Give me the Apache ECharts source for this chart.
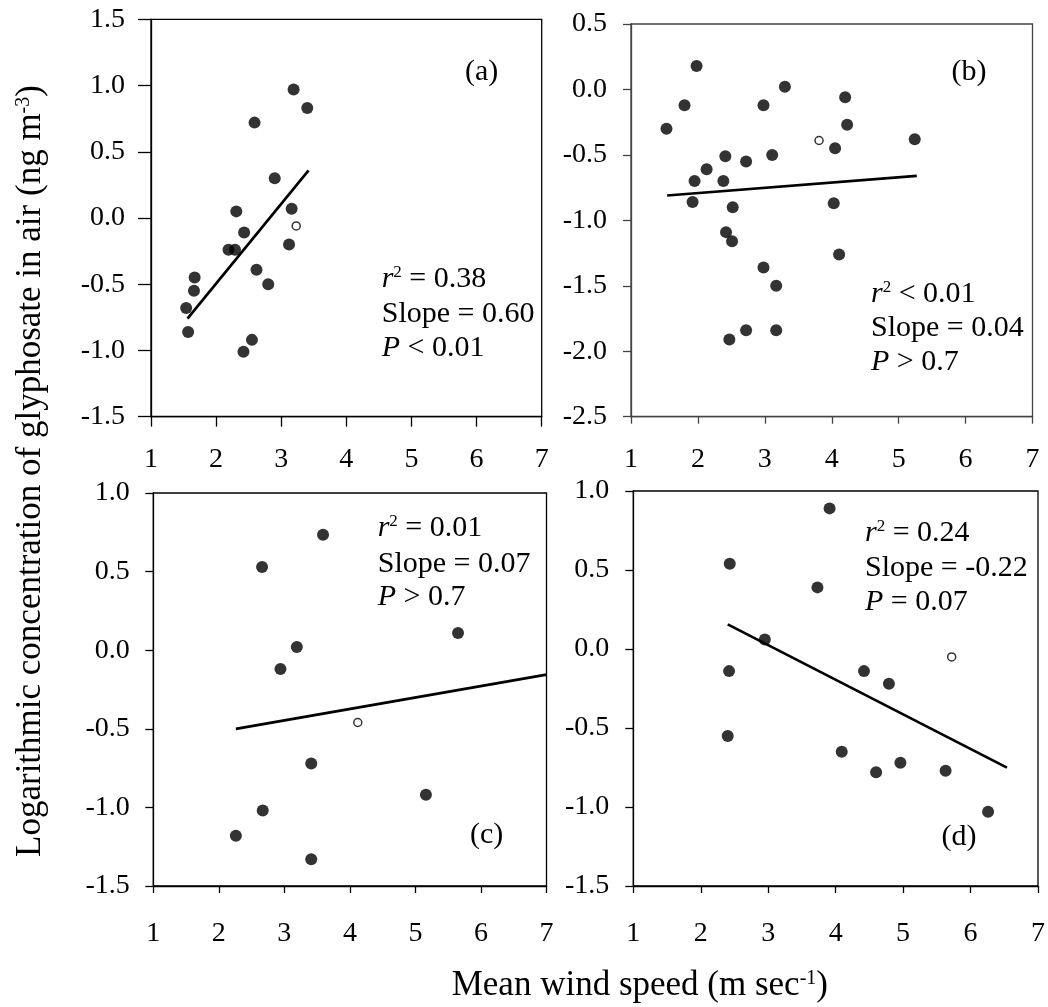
<!DOCTYPE html>
<html>
<head>
<meta charset="utf-8">
<script src="https://cdn.jsdelivr.net/npm/echarts@6/dist/echarts.min.js"></script>
<style>
html,body{margin:0;padding:0;background:#fff;}
#chart{width:1048px;height:1007px;}
</style>
</head>
<body>
<div id="chart"></div>
<script>
// ---- data ----
const xTicks = [1, 2, 3, 4, 5, 6, 7];

// panel (a)
const aWind = [3.19, 3.40, 2.59, 2.90, 2.31, 3.16, 2.43, 2.19, 2.29, 3.12, 2.62, 2.80, 1.67, 1.66, 1.54, 1.57, 2.55, 2.42];
const aConc = [0.97, 0.83, 0.72, 0.30, 0.05, 0.07, -0.11, -0.24, -0.24, -0.20, -0.39, -0.50, -0.45, -0.55, -0.68, -0.86, -0.92, -1.01];
const aOpenWind = [3.23];
const aOpenConc = [-0.06];
const aFitWind = [1.56, 3.42];
const aFitConc = [-0.76, 0.36];
const aStats = ['= 0.38', '0.60', '< 0.01'];

// panel (b)
const bWind = [1.98, 1.80, 1.53, 3.30, 2.98, 4.20, 4.23, 4.05, 5.24, 2.41, 3.11, 2.72, 2.13, 1.95, 2.38, 1.92, 2.52, 4.03, 2.42, 2.51, 4.11, 2.98, 3.17, 2.72, 3.17, 2.47];
const bConc = [0.18, -0.12, -0.30, 0.02, -0.12, -0.06, -0.27, -0.45, -0.38, -0.51, -0.50, -0.55, -0.61, -0.70, -0.70, -0.86, -0.90, -0.87, -1.09, -1.16, -1.26, -1.36, -1.50, -1.84, -1.84, -1.91];
const bOpenWind = [3.81];
const bOpenConc = [-0.39];
const bFitWind = [1.54, 5.27];
const bFitConc = [-0.81, -0.66];
const bStats = ['< 0.01', '0.04', '> 0.7'];

// panel (c)
const cWind = [3.59, 2.66, 3.19, 2.94, 5.65, 3.41, 5.16, 2.67, 2.26, 3.41];
const cConc = [0.735, 0.53, 0.02, -0.12, 0.11, -0.72, -0.92, -1.02, -1.18, -1.33];
const cOpenWind = [4.12];
const cOpenConc = [-0.46];
const cFitWind = [2.26, 7.0];
const cFitConc = [-0.50, -0.155];
const cStats = ['= 0.01', '0.07', '> 0.7'];

// panel (d)
const dWind = [3.91, 2.43, 3.73, 2.95, 2.42, 4.42, 4.79, 2.40, 4.09, 4.96, 4.60, 5.63, 6.26];
const dConc = [0.89, 0.54, 0.39, 0.06, -0.14, -0.14, -0.22, -0.55, -0.65, -0.72, -0.78, -0.77, -1.03];
const dOpenWind = [5.72];
const dOpenConc = [-0.05];
const dFitWind = [2.40, 6.54];
const dFitConc = [0.156, -0.751];
const dStats = ['= 0.24', '-0.22', '= 0.07'];

const yRangeA = [-1.5, 1.5];
const yRangeB = [-2.5, 0.5];
const yRangeC = [-1.5, 1.0];
const yRangeD = [-1.5, 1.0];

const panelLetters = ['(a)', '(b)', '(c)', '(d)'];
const xTitle = 'Mean wind speed (m sec';
const xTitleSup = '-1';
const yTitle = 'Logarithmic concentration of glyphosate in air (ng m';
const yTitleSup = '-3';

// ---- layout / styling ----
const FONT = '"Liberation Serif", "Times New Roman", serif';
const zip = (xs, ys) => xs.map((v, i) => [v, ys[i]]);

const panels = [
  { wind: aWind, conc: aConc, ow: aOpenWind, oc: aOpenConc, fw: aFitWind, fc: aFitConc, yr: yRangeA,
    grid: { left: 151, top: 19.3, width: 390.7, height: 397.4 }, tickX: 10, tickY: 13, mX: 29, mY: 26, frame: '#000',
    stats: aStats, statX: 381.7, statY: [279, 314, 348], letterPos: [481.7, 72] },
  { wind: bWind, conc: bConc, ow: bOpenWind, oc: bOpenConc, fw: bFitWind, fc: bFitConc, yr: yRangeB,
    grid: { left: 631, top: 24, width: 401.5, height: 392.7 }, tickX: 7, tickY: 8, mX: 29, mY: 24, frame: '#444',
    stats: bStats, statX: 871, statY: [294.3, 328.3, 362], letterPos: [969, 72] },
  { wind: cWind, conc: cConc, ow: cOpenWind, oc: cOpenConc, fw: cFitWind, fc: cFitConc, yr: yRangeC,
    grid: { left: 153.3, top: 493, width: 393.2, height: 393 }, tickX: 7, tickY: 8, mX: 34, mY: 23.5, frame: '#000',
    stats: cStats, statX: 377.7, statY: [528.3, 563.7, 597], letterPos: [486.7, 835] },
  { wind: dWind, conc: dConc, ow: dOpenWind, oc: dOpenConc, fw: dFitWind, fc: dFitConc, yr: yRangeD,
    grid: { left: 633.3, top: 491, width: 407.2, height: 395 }, tickX: 7, tickY: 8, mX: 34, mY: 24, frame: '#000',
    stats: dStats, statX: 865, statY: [532.7, 567.7, 601.7], letterPos: [959, 836.7] }
];

const grids = [], xAxes = [], yAxes = [], series = [], graphics = [];

panels.forEach((p, i) => {
  grids.push(Object.assign({ show: true, borderColor: p.frame, borderWidth: 1.3, backgroundColor: 'transparent' }, p.grid));
  xAxes.push({
    type: 'value', gridIndex: i, min: xTicks[0], max: xTicks[xTicks.length - 1], interval: 1,
    axisLine: { show: true, onZero: false, lineStyle: { color: p.frame, width: 1.3 } },
    axisTick: { show: true, inside: false, length: p.tickX, lineStyle: { color: p.frame, width: 1.3 } },
    axisLabel: { show: true, margin: p.mX, color: '#000', fontFamily: FONT, fontSize: 28, showMinLabel: true, showMaxLabel: true },
    splitLine: { show: false }
  });
  yAxes.push({
    type: 'value', gridIndex: i, min: p.yr[0], max: p.yr[1], interval: 0.5,
    axisLine: { show: true, onZero: false, lineStyle: { color: p.frame, width: 1.3 } },
    axisTick: { show: true, inside: false, length: p.tickY, lineStyle: { color: p.frame, width: 1.3 } },
    axisLabel: { show: true, margin: p.mY, color: '#000', fontFamily: FONT, fontSize: 28,
      formatter: v => (Math.abs(v) < 1e-9 ? 0 : v).toFixed(1), showMinLabel: true, showMaxLabel: true },
    splitLine: { show: false }
  });
  series.push({
    type: 'line', xAxisIndex: i, yAxisIndex: i, data: zip(p.fw, p.fc), symbol: 'none',
    lineStyle: { color: '#000', width: 2.7 }, silent: true, z: 2
  });
  series.push({
    type: 'scatter', xAxisIndex: i, yAxisIndex: i, data: zip(p.wind, p.conc), symbol: 'circle', symbolSize: 12,
    itemStyle: { color: '#000' }, silent: true, z: 3
  });
  series.push({
    type: 'scatter', xAxisIndex: i, yAxisIndex: i, data: zip(p.ow, p.oc), symbol: 'circle', symbolSize: 8,
    itemStyle: { color: '#fff', borderColor: '#000', borderWidth: 1.5 }, silent: true, z: 3
  });

  const base = { fontFamily: FONT, fontSize: 30, fill: '#000' };
  const rich = {
    it: { fontFamily: FONT, fontSize: 30, fontStyle: 'italic', color: '#000' },
    n: { fontFamily: FONT, fontSize: 30, color: '#000' },
    sup: { fontFamily: FONT, fontSize: 17, color: '#000', verticalAlign: 'top' }
  };
  graphics.push({ type: 'text', x: p.statX, y: p.statY[0], silent: true,
    style: Object.assign({}, base, { text: '{it|r}{sup|2}{n| ' + p.stats[0] + '}', rich: rich, align: 'left', verticalAlign: 'middle' }) });
  graphics.push({ type: 'text', x: p.statX, y: p.statY[1], silent: true,
    style: Object.assign({}, base, { text: 'Slope = ' + p.stats[1], align: 'left', verticalAlign: 'middle' }) });
  graphics.push({ type: 'text', x: p.statX, y: p.statY[2], silent: true,
    style: Object.assign({}, base, { text: '{it|P}{n| ' + p.stats[2] + '}', rich: rich, align: 'left', verticalAlign: 'middle' }) });
  graphics.push({ type: 'text', x: p.letterPos[0], y: p.letterPos[1], silent: true,
    style: Object.assign({}, base, { text: panelLetters[i], align: 'center', verticalAlign: 'middle' }) });
});

const titleRich = {
  n: { fontFamily: FONT, fontSize: 35, color: '#000' },
  sup: { fontFamily: FONT, fontSize: 20, color: '#000', verticalAlign: 'top' }
};
graphics.push({ type: 'text', x: 451.7, y: 986, silent: true,
  style: { text: '{n|' + xTitle + '}{sup|' + xTitleSup + '}{n|)}', rich: titleRich, fontFamily: FONT, fontSize: 35, fill: '#000', align: 'left', verticalAlign: 'middle' } });
graphics.push({ type: 'text', x: 31, y: 471, rotation: Math.PI / 2, silent: true,
  style: { text: '{n|' + yTitle + '}{sup|' + yTitleSup + '}{n|)}', rich: titleRich, fontFamily: FONT, fontSize: 35, fill: '#000', align: 'center', verticalAlign: 'middle' } });

const chart = echarts.init(document.getElementById('chart'), null, { renderer: 'canvas' });
chart.setOption({
  animation: false,
  backgroundColor: '#fff',
  grid: grids,
  xAxis: xAxes,
  yAxis: yAxes,
  series: series,
  graphic: { elements: graphics }
});
</script>
</body>
</html>
